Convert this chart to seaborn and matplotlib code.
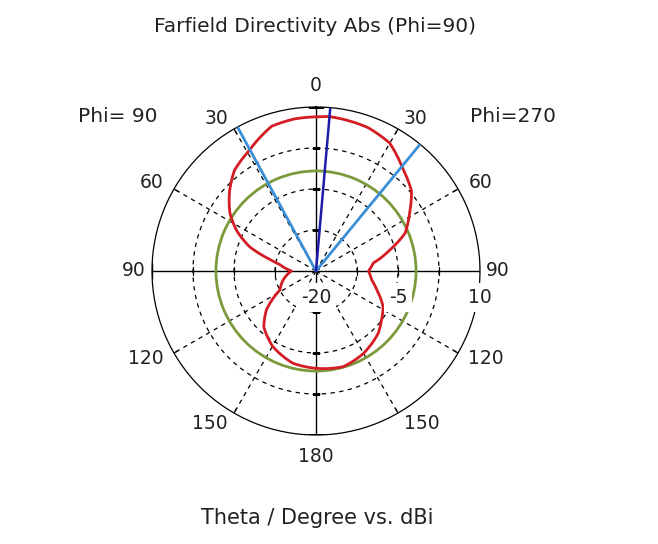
import numpy as np
import pandas as pd
import matplotlib
matplotlib.use("Agg")
import matplotlib.pyplot as plt
import seaborn as sns

# ---- data ----
theta_deg = [-180, -166, -150, -137, -128, -118, -105, -90, -80, -76, -70, -63, -56, -47,
             -39, -29, -17, -8, 0, 5, 20, 30, 40, 50, 58, 67, 74, 82, 90, 99, 107, 118,
             127, 135, 150, 164, 180]
directivity_db = [-2.2, -2.6, -4.1, -6.0, -8.5, -12.5, -13.8, -15.5, -13.3, -11.4, -7.1, -3.7,
                  -1.0, 1.6, 3.7, 5.2, 7.7, 8.1, 8.2, 8.35, 7.9, 7.0, 4.6, 2.8, 0.2, -2.3,
                  -5.9, -9.4, -10.4, -9.7, -8.4, -6.1, -5.0, -3.9, -2.6, -1.8, -2.2]
ref_level_db = -1.7                 # green reference circle
main_lobe_dir = 5                   # deg
beam_limits = [-28.6, 39.4]         # deg (3 dB angular width)
angle_ticks = [0, 30, 60, 90, 120, 150, 180, -30, -60, -90, -120, -150]
angle_labels = ["0", "30", "60", "90", "120", "150", "180", "30", "60", "90", "120", "150"]
r_ticks = [-20, -5, 10]
r_grid = [-12.5, -5, 2.5]
r_min, r_max = -20, 10

sns.set_style("white")
plt.rcParams["font.family"] = ["DejaVu Sans"]
FS_NUM = 13.5
FS_TXT = 14.5
TXT = "#222222"

fig = plt.figure(figsize=(6.58, 5.44), dpi=100)
cx, cy, R = 316, 271, 164
W, H = 658, 544
ax = fig.add_axes([(cx - R) / W, (H - cy - R) / H, 2 * R / W, 2 * R / H], projection="polar")
ax.set_theta_zero_location("N")
ax.set_theta_direction(-1)
ax.set_ylim(r_min, r_max)
ax.grid(False)
ax.set_xticks([])
ax.set_yticks([])
ax.spines["polar"].set_color("black")
ax.spines["polar"].set_linewidth(0.9)

dash = (0, (3.5, 3.5))
full = np.linspace(0, 2 * np.pi, 361)
for r in r_grid:
    ax.plot(full, np.full_like(full, r), color="black", lw=0.9, ls=dash, zorder=1)
for a in [30, 60, 120, 150, -30, -60, -120, -150]:
    t = np.deg2rad(a)
    ax.plot([t, t], [r_min, r_max], color="black", lw=0.9, ls=dash, zorder=1)
    ax.plot([t, t], [r_max, r_max - 1.0], color="black", lw=0.9, zorder=1)
# solid cross
for a in [0, 90, 180, -90]:
    t = np.deg2rad(a)
    ax.plot([t, t], [r_min, r_max], color="black", lw=1.0, zorder=1)
for r in r_grid:
    ax.plot([0, np.pi], [r, r], ls="none", marker="_", ms=6, mew=0.9, color="black", zorder=1)
    ax.plot([np.pi / 2, -np.pi / 2], [r, r], ls="none", marker="|", ms=6, mew=0.9, color="black", zorder=1)
ax.plot([np.pi / 2, -np.pi / 2], [r_max, r_max], ls="none", marker="|", ms=12, mew=1.0, color="black", zorder=1)
ax.plot([0, np.pi], [r_max, r_max], ls="none", marker="_", ms=12, mew=1.0, color="black", zorder=1)

n_before = len(ax.lines)
# reference circle (green)
ref_theta = np.linspace(-np.pi, np.pi, 361)
ref_df = pd.DataFrame({"theta": ref_theta, "db": np.full_like(ref_theta, ref_level_db)})
sns.lineplot(data=ref_df, x="theta", y="db", ax=ax, sort=False, estimator=None,
             color="#7a9a3c", linewidth=2.0, zorder=3)
# directivity (red)
df = pd.DataFrame({"theta": np.deg2rad(theta_deg), "db": directivity_db})
sns.lineplot(data=df, x="theta", y="db", ax=ax, sort=False, estimator=None,
             color="#d41c24", linewidth=2.0, zorder=4)
for ln in ax.lines[n_before:]:
    ln.get_path()._interpolation_steps = 60
    ln.set_solid_joinstyle("round")

# beam width lines and main lobe direction
for b in beam_limits:
    t = np.deg2rad(b)
    ax.plot([t, t], [r_min, r_max], color="#3a8fd6", lw=2.0, zorder=5)
t = np.deg2rad(main_lobe_dir)
ax.plot([t, t], [r_min, r_max], color="#1c1ca8", lw=1.8, zorder=6)
ax.set_xlabel("")
ax.set_ylabel("")

# angle labels
lab_r = r_min + 176 / R * (r_max - r_min)
for a, s in zip(angle_ticks, angle_labels):
    if a == 0:
        ha, va = "center", "bottom"
    elif a == 180:
        ha, va = "center", "top"
    elif a < 0:
        ha, va = "right", "center"
    else:
        ha, va = "left", "center"
    rr = lab_r if abs(a) != 90 else r_min + 170 / R * (r_max - r_min)
    ax.text(np.deg2rad(a), rr, s, ha=ha, va=va, fontsize=FS_NUM, color=TXT, clip_on=False)

# radial labels
for r in r_ticks:
    ax.annotate(str(r), xy=(np.pi / 2, r), xytext=(0, -19), textcoords="offset points",
                ha="center", va="center", fontsize=FS_NUM, color=TXT, zorder=10,
                bbox=dict(boxstyle="square,pad=0.25", fc="white", ec="none"),
                annotation_clip=False)

fig.text(118 / W, 1 - 117 / H, "Phi= 90", ha="center", va="center", fontsize=FS_TXT, color=TXT)
fig.text(513 / W, 1 - 117 / H, "Phi=270", ha="center", va="center", fontsize=FS_TXT, color=TXT)
fig.text(315 / W, 1 - 27 / H, "Farfield Directivity Abs (Phi=90)", ha="center", va="center",
         fontsize=FS_TXT, color=TXT)
fig.text(317 / W, 1 - 518 / H, "Theta / Degree vs. dBi", ha="center", va="center",
         fontsize=FS_TXT + 0.5, color=TXT)

fig.savefig("out.png", dpi=100, facecolor="white")
